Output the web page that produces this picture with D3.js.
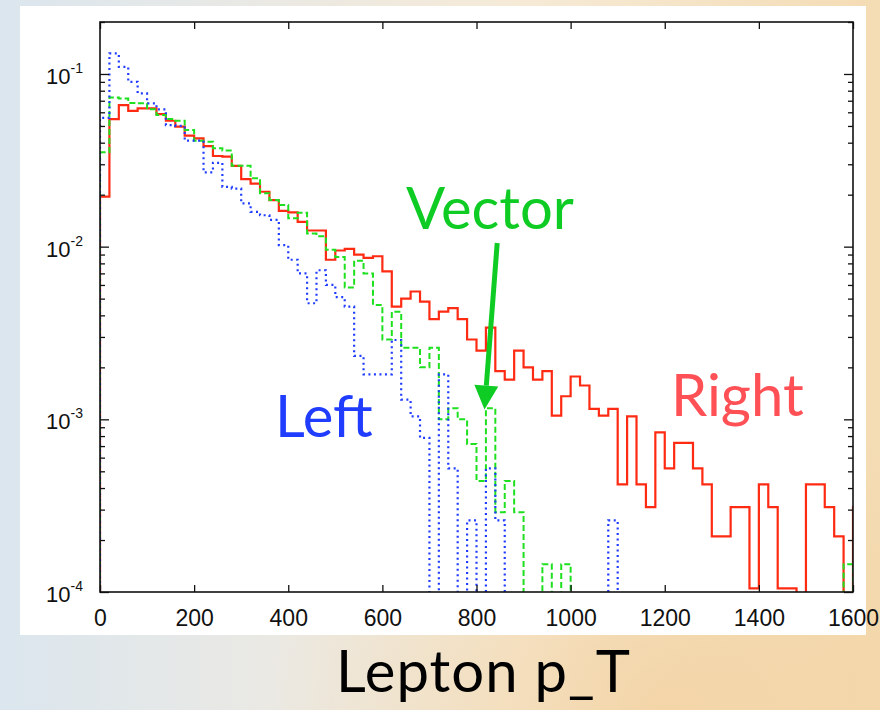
<!DOCTYPE html>
<html>
<head>
<meta charset="utf-8">
<script src="https://cdn.jsdelivr.net/npm/d3@7"></script>
<style>
  body { margin: 0; }
  svg { display: block; }
</style>
</head>
<body>
<div class="container"></div>
<script>
// histogram bins are 20 GeV wide, starting at 0
const binWidth = 20;

// "Right" (solid red) - last value is the overflow bin just past 1600
const rightValues = [
  0.0195, 0.0548, 0.066, 0.0612, 0.0632, 0.0632, 0.0586, 0.0536, 0.0495, 0.0439,
  0.0424, 0.0382, 0.0335, 0.0332, 0.0294, 0.0246, 0.0232, 0.0208, 0.0186, 0.0161,
  0.0158, 0.0139, 0.0124, 0.0124, 0.0084, 0.0095, 0.0097, 0.0090, 0.0086, 0.0088,
  0.0072, 0.0045, 0.0050, 0.0055, 0.0048, 0.0038, 0.0042, 0.0044, 0.0038, 0.0029,
  0.0025, 0.0034, 0.0019, 0.0017, 0.0025, 0.0020, 0.0017, 0.0019, 0.00105, 0.00136,
  0.00177, 0.00157, 0.00115, 0.00105, 0.00115, 0.00042, 0.00104, 0.00042, 0.00031, 0.00084,
  0.00052, 0.00073, 0.00073, 0.00052, 0.00042, 0.00021, 0.00021, 0.00031, 0.00031, 0.000105,
  0.00042, 0.00031, 0.000105, 0.000105, 0, 0.00042, 0.00042, 0.00031, 0.00021, 0,
  0.00031
];

// "Left" (dotted blue)
const leftValues = [
  0.0557, 0.1315, 0.110, 0.0901, 0.0772, 0.0676, 0.0624, 0.0506, 0.050, 0.0411,
  0.0411, 0.0269, 0.0306, 0.0222, 0.0217, 0.0178, 0.0159, 0.0152, 0.0143, 0.0102,
  0.0084, 0.0070, 0.0047, 0.0073, 0.0060, 0.0051, 0.0045, 0.00233, 0.00182, 0.00182,
  0.00182, 0.00288, 0.0013, 0.00104, 0.00078, 0, 0.00182, 0.00052, 0, 0.00026,
  0, 0.00052, 0.00026, 0, 0, 0, 0, 0, 0, 0,
  0, 0, 0, 0, 0.00026, 0, 0, 0, 0, 0,
  0, 0, 0, 0, 0, 0, 0, 0, 0, 0,
  0, 0, 0, 0, 0, 0, 0, 0, 0, 0
];

// "Vector" (dashed green)
const vectorValues = [
  0.0352, 0.0731, 0.072, 0.068, 0.0676, 0.0624, 0.0578, 0.0548, 0.0536, 0.0473,
  0.0411, 0.0405, 0.0371, 0.036, 0.0294, 0.0294, 0.0249, 0.0204, 0.0186, 0.0174,
  0.0146, 0.0157, 0.0119, 0.0115, 0.0096, 0.0087, 0.0058, 0.0083, 0.0070, 0.0046,
  0.0029, 0.0042, 0.0026, 0.0026, 0.0020, 0.0026, 0.0010, 0.00116, 0.0010, 0.00072,
  0.00044, 0.00116, 0.00029, 0.00044, 0.00029, 0, 0, 0.000145, 0, 0.000145,
  0, 0, 0, 0, 0, 0, 0, 0, 0, 0,
  0, 0, 0, 0, 0, 0, 0, 0, 0, 0,
  0, 0, 0, 0, 0, 0, 0, 0, 0, 0.000145
];

const xTicks = [0, 200, 400, 600, 800, 1000, 1200, 1400, 1600];
const yDecades = [1e-4, 1e-3, 1e-2, 1e-1];
const yExponents = ['-4', '-3', '-2', '-1'];

const w = 880;
const h = 710;
const plot = { left: 100, right: 853, top: 22, bottom: 592 };

const svg = d3.select('.container')
  .append('svg')
  .attr('width', w)
  .attr('height', h);

// blurry slide background
const defs = svg.append('defs');
const bg = defs.append('linearGradient').attr('id', 'bg').attr('x1', 0).attr('x2', 1).attr('y1', 0).attr('y2', 0);
bg.append('stop').attr('offset', '0%').attr('stop-color', '#dbe6ee');
bg.append('stop').attr('offset', '30%').attr('stop-color', '#eae9e4');
bg.append('stop').attr('offset', '60%').attr('stop-color', '#f6ead6');
bg.append('stop').attr('offset', '100%').attr('stop-color', '#f4dcb4');
const glow = defs.append('radialGradient').attr('id', 'glow').attr('cx', 0.75).attr('cy', 1).attr('r', 0.45);
glow.append('stop').attr('offset', '0%').attr('stop-color', '#f1c88c').attr('stop-opacity', 0.55);
glow.append('stop').attr('offset', '100%').attr('stop-color', '#f1c88c').attr('stop-opacity', 0);

svg.append('rect').attr('width', w).attr('height', h).attr('fill', 'url(#bg)');
svg.append('rect').attr('width', w).attr('height', h).attr('fill', 'url(#glow)');

// white chart panel
svg.append('rect')
  .attr('x', 20).attr('y', 6)
  .attr('width', 846).attr('height', 629)
  .attr('fill', 'white');

const x = d3.scaleLinear([0, 1600], [plot.left, plot.right]);
const y = d3.scaleLog([1e-4, 0.2], [plot.bottom, plot.top]);

defs.append('clipPath').attr('id', 'clip')
  .append('rect')
  .attr('x', plot.left).attr('y', plot.top)
  .attr('width', plot.right - plot.left).attr('height', plot.bottom - plot.top);

// step outline of a histogram; empty bins drop below the frame and get clipped
const floor = 1e-5;
function steps(values) {
  const pts = [[0, floor]];
  values.forEach((v, i) => pts.push([i * binWidth, v > 0 ? v : floor]));
  pts.push([values.length * binWidth, floor]);
  return pts;
}
const line = d3.line()
  .x(d => x(d[0]))
  .y(d => y(d[1]))
  .curve(d3.curveStepAfter);

const hists = svg.append('g').attr('clip-path', 'url(#clip)');

hists.append('path')
  .attr('d', line(steps(rightValues)))
  .attr('fill', 'none')
  .attr('stroke', '#ff2a12')
  .attr('stroke-width', 2.2);

hists.append('path')
  .attr('d', line(steps(vectorValues)))
  .attr('fill', 'none')
  .attr('stroke', '#1ee01e')
  .attr('stroke-width', 2)
  .attr('stroke-dasharray', '6,3');

hists.append('path')
  .attr('d', line(steps(leftValues)))
  .attr('fill', 'none')
  .attr('stroke', '#1f3cff')
  .attr('stroke-width', 2.2)
  .attr('stroke-dasharray', '2,3.5');

// axes: ticks point inward on all four sides
const axisFont = '"Liberation Sans", Arial, Helvetica, sans-serif';

const xBottom = svg.append('g')
  .attr('transform', `translate(0,${plot.bottom})`)
  .call(d3.axisBottom(x).tickValues(xTicks).tickFormat(d3.format('d'))
    .tickSizeInner(-7).tickSizeOuter(0).tickPadding(18));
xBottom.selectAll('text')
  .style('font-family', axisFont)
  .style('font-size', '23px')
  .attr('fill', '#111');

svg.append('g')
  .attr('transform', `translate(0,${plot.top})`)
  .call(d3.axisTop(x).tickValues(xTicks).tickSizeInner(-7).tickSizeOuter(0).tickFormat(''));

const minorTicks = [];
yDecades.forEach(d => { for (let k = 2; k <= 9; k++) if (d * k <= 0.2) minorTicks.push(d * k); });

const yLeft = svg.append('g')
  .attr('transform', `translate(${plot.left},0)`)
  .call(d3.axisLeft(y).tickValues(yDecades).tickSizeInner(-9).tickSizeOuter(0).tickFormat(''));

svg.append('g')
  .attr('transform', `translate(${plot.left},0)`)
  .call(d3.axisLeft(y).tickValues(minorTicks).tickSizeInner(-5).tickSizeOuter(0).tickFormat(''));

svg.append('g')
  .attr('transform', `translate(${plot.right},0)`)
  .call(d3.axisRight(y).tickValues(yDecades).tickSizeInner(-9).tickSizeOuter(0).tickFormat(''));

svg.append('g')
  .attr('transform', `translate(${plot.right},0)`)
  .call(d3.axisRight(y).tickValues(minorTicks).tickSizeInner(-5).tickSizeOuter(0).tickFormat(''));

svg.selectAll('.domain').remove();
svg.selectAll('.tick line').attr('stroke', '#111').attr('stroke-width', 1.3);

// y labels as 10 with a superscript exponent
yLeft.selectAll('.tick').each(function (d, i) {
  const t = d3.select(this).append('text')
    .attr('x', -17)
    .attr('y', 9.5)
    .attr('text-anchor', 'end')
    .attr('fill', '#111')
    .style('font-family', axisFont);
  t.append('tspan').style('font-size', '22px').text('10');
  t.append('tspan').attr('dy', -11).style('font-size', '14px').text(yExponents[i]);
});

// frame
svg.append('rect')
  .attr('x', plot.left).attr('y', plot.top)
  .attr('width', plot.right - plot.left).attr('height', plot.bottom - plot.top)
  .attr('fill', 'none')
  .attr('stroke', '#111')
  .attr('stroke-width', 1.6);

// annotations
const labelFont = 'Lato, "Open Sans", sans-serif';

svg.append('text')
  .attr('x', 406).attr('y', 229)
  .attr('fill', '#0fcc25')
  .style('font-family', labelFont)
  .style('font-size', '58px')
  .text('Vector');

svg.append('text')
  .attr('x', 275).attr('y', 437)
  .attr('fill', '#1f3cff')
  .style('font-family', labelFont)
  .style('font-size', '58px')
  .text('Left');

svg.append('text')
  .attr('x', 671).attr('y', 416)
  .attr('fill', '#ff5056')
  .style('font-family', labelFont)
  .style('font-size', '58px')
  .text('Right');

svg.append('text')
  .attr('x', 336).attr('y', 692)
  .attr('fill', '#000')
  .attr('textLength', 294)
  .style('font-family', labelFont)
  .style('font-size', '58px')
  .text('Lepton p_T');

// arrow from the Vector label down to the green histogram
const arrowFrom = [844, 0.0105];
const arrowTip = [817, 0.00114];
const ax0 = x(arrowFrom[0]), ay0 = y(arrowFrom[1]);
const ax1 = x(arrowTip[0]), ay1 = y(arrowTip[1]);
const ang = Math.atan2(ay1 - ay0, ax1 - ax0);
const headLen = 24, headHalf = 12;
const bx = ax1 - headLen * Math.cos(ang), by = ay1 - headLen * Math.sin(ang);

svg.append('line')
  .attr('x1', ax0).attr('y1', ay0)
  .attr('x2', bx).attr('y2', by)
  .attr('stroke', '#0fcc25')
  .attr('stroke-width', 5);

svg.append('path')
  .attr('d', d3.line()([
    [ax1, ay1],
    [bx + headHalf * Math.sin(ang), by - headHalf * Math.cos(ang)],
    [bx - headHalf * Math.sin(ang), by + headHalf * Math.cos(ang)]
  ]) + 'Z')
  .attr('fill', '#0fcc25');
</script>
</body>
</html>
